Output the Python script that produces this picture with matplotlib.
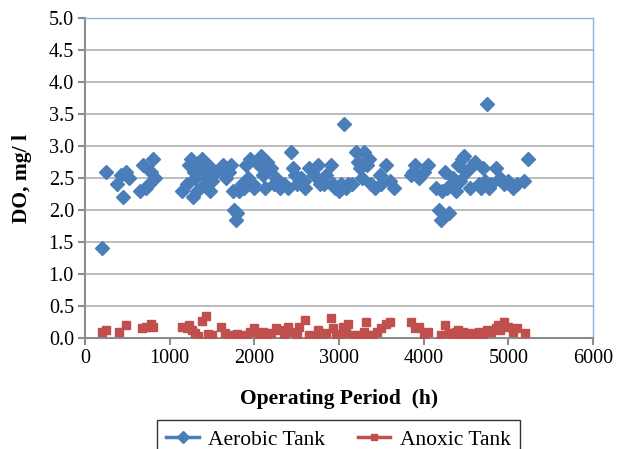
import matplotlib.pyplot as plt
from matplotlib.lines import Line2D

# aerobic tank: (time h, DO mg/l)
aerobic_t = [200, 250, 380, 420, 450, 480, 520, 650, 680, 720, 750, 780, 800, 820,
             1150, 1200, 1230, 1250, 1270, 1290, 1300, 1320, 1340, 1360, 1380, 1400,
             1420, 1450, 1480, 1500, 1550, 1600, 1630, 1660, 1700, 1720, 1750, 1760,
             1780, 1800, 1820, 1850, 1880, 1900, 1930, 1950, 1980, 2000, 2050, 2080,
             2100, 2130, 2150, 2200, 2230, 2260, 2300, 2350, 2400, 2430, 2450, 2480,
             2500, 2550, 2580, 2600, 2650, 2700, 2750, 2780, 2820, 2850, 2900, 2930,
             2950, 3000, 3020, 3060, 3080, 3100, 3150, 3200, 3220, 3250, 3270, 3300,
             3330, 3350, 3380, 3430, 3480, 3500, 3550, 3600, 3650, 3850, 3870, 3900,
             3950, 4000, 4050, 4150, 4180, 4200, 4220, 4250, 4280, 4300, 4330, 4350,
             4380, 4400, 4430, 4450, 4480, 4500, 4550, 4580, 4600, 4650, 4680, 4700,
             4720, 4750, 4770, 4800, 4850, 4900, 4950, 5000, 5050, 5100, 5180, 5230]
aerobic_do = [1.4, 2.6, 2.4, 2.55, 2.2, 2.6, 2.5, 2.3, 2.7, 2.35, 2.4, 2.6, 2.8, 2.5,
              2.3, 2.4, 2.7, 2.8, 2.2, 2.6, 2.5, 2.3, 2.75, 2.65, 2.8, 2.55,
              2.4, 2.7, 2.3, 2.45, 2.6, 2.65, 2.7, 2.5, 2.6, 2.7, 2.3, 2.0,
              1.85, 1.95, 2.3, 2.4, 2.35, 2.7, 2.5, 2.8, 2.4, 2.35, 2.7, 2.85,
              2.55, 2.35, 2.75, 2.65, 2.4, 2.5, 2.35, 2.4, 2.35, 2.9, 2.65, 2.55,
              2.4, 2.5, 2.45, 2.35, 2.65, 2.55, 2.7, 2.4, 2.4, 2.55, 2.7, 2.4,
              2.35, 2.3, 2.4, 3.35, 2.35, 2.4, 2.4, 2.9, 2.75, 2.65, 2.5, 2.9,
              2.7, 2.8, 2.4, 2.35, 2.55, 2.4, 2.7, 2.45, 2.35, 2.55, 2.6, 2.7,
              2.5, 2.6, 2.7, 2.35, 2.0, 1.85, 2.3, 2.6, 2.35, 1.95, 2.4, 2.5,
              2.3, 2.7, 2.45, 2.8, 2.85, 2.6, 2.35, 2.7, 2.75, 2.4, 2.35, 2.65,
              2.45, 3.65, 2.35, 2.4, 2.65, 2.5, 2.4, 2.45, 2.35, 2.4, 2.45, 2.8]

# anoxic tank
anoxic_t = [200, 250, 400, 480, 670, 720, 780, 800, 1150, 1200, 1230, 1260, 1300, 1330,
            1380, 1430, 1450, 1500, 1600, 1650, 1700, 1750, 1780, 1800, 1850, 1900,
            1950, 2000, 2050, 2100, 2150, 2200, 2250, 2300, 2350, 2400, 2450, 2500,
            2530, 2600, 2650, 2700, 2750, 2800, 2850, 2900, 2930, 2960, 3000, 3050,
            3080, 3100, 3180, 3250, 3300, 3320, 3350, 3400, 3450, 3500, 3550, 3600,
            3850, 3900, 3950, 4000, 4050, 4200, 4250, 4300, 4350, 4380, 4400, 4430,
            4460, 4500, 4550, 4600, 4650, 4700, 4750, 4800, 4850, 4880, 4900, 4950,
            5000, 5050, 5100, 5200]
anoxic_do = [0.1, 0.13, 0.1, 0.2, 0.15, 0.18, 0.22, 0.17, 0.18, 0.15, 0.2, 0.12, 0.08, 0.04,
             0.27, 0.35, 0.07, 0.05, 0.17, 0.08, 0.03, 0.05, 0.02, 0.06, 0.02, 0.05,
             0.1, 0.15, 0.05, 0.1, 0.03, 0.08, 0.15, 0.12, 0.05, 0.18, 0.1, 0.05,
             0.18, 0.28, 0.05, 0.03, 0.12, 0.05, 0.08, 0.32, 0.15, 0.07, 0.03, 0.18,
             0.08, 0.22, 0.05, 0.05, 0.1, 0.25, 0.05, 0.05, 0.1, 0.15, 0.22, 0.25,
             0.25, 0.15, 0.18, 0.05, 0.1, 0.05, 0.2, 0.08, 0.05, 0.1, 0.12, 0.05,
             0.1, 0.05, 0.08, 0.03, 0.1, 0.05, 0.12, 0.1, 0.15, 0.2, 0.12, 0.25,
             0.18, 0.1, 0.15, 0.08]

blue = '#4a7ebb'
red = '#c0504d'
serif = 'Liberation Serif'

fig = plt.figure(figsize=(6.21, 4.49), dpi=100)
ax = fig.add_axes([0.137, 0.247, 0.818, 0.713])

ax.plot(aerobic_t, aerobic_do, linestyle='none', marker='D', markersize=7.5,
        color=blue, zorder=3)
ax.plot(anoxic_t, anoxic_do, linestyle='none', marker='s', markersize=5.5,
        color=red, zorder=3)

ax.set_xlim(0, 6000)
ax.set_ylim(0, 5)
ax.set_xticks(range(0, 6001, 1000))
ax.set_yticks([i * 0.5 for i in range(11)])
ax.set_yticklabels(['%.1f' % (i * 0.5) for i in range(11)])
ax.grid(axis='y', color='#b0b0b0', linewidth=1.2)
ax.set_axisbelow(True)

for s in ['left', 'bottom']:
    ax.spines[s].set_color('#8c8c8c')
    ax.spines[s].set_linewidth(1.5)
for s in ['top', 'right']:
    ax.spines[s].set_color('#8db3e2')
    ax.spines[s].set_linewidth(1)
ax.tick_params(direction='out', length=5, width=1.5, color='#8c8c8c',
               labelsize=14.5, pad=3)
for lab in ax.get_xticklabels() + ax.get_yticklabels():
    lab.set_fontfamily(serif)

ax.set_xlabel('Operating Period  (h)', fontfamily=serif, fontweight='bold',
              fontsize=15.5, labelpad=15)
ax.set_ylabel('DO, mg/ l', fontfamily=serif, fontweight='bold',
              fontsize=15.5, labelpad=12)

handles = [Line2D([], [], color=blue, marker='D', markersize=6, linewidth=2.5),
           Line2D([], [], color=red, marker='s', markersize=5, linewidth=2.5)]
leg = fig.legend(handles, ['Aerobic Tank', 'Anoxic Tank'], loc='upper center',
                 bbox_to_anchor=(0.545, 0.064), borderaxespad=0, ncol=2,
                 frameon=True, fancybox=False, edgecolor='black', borderpad=0.45,
                 columnspacing=1.5, handlelength=1.5, handletextpad=0.45,
                 prop={'family': serif, 'size': 15.5})
leg.get_frame().set_linewidth(1)

fig.savefig('out.png', dpi=100)
